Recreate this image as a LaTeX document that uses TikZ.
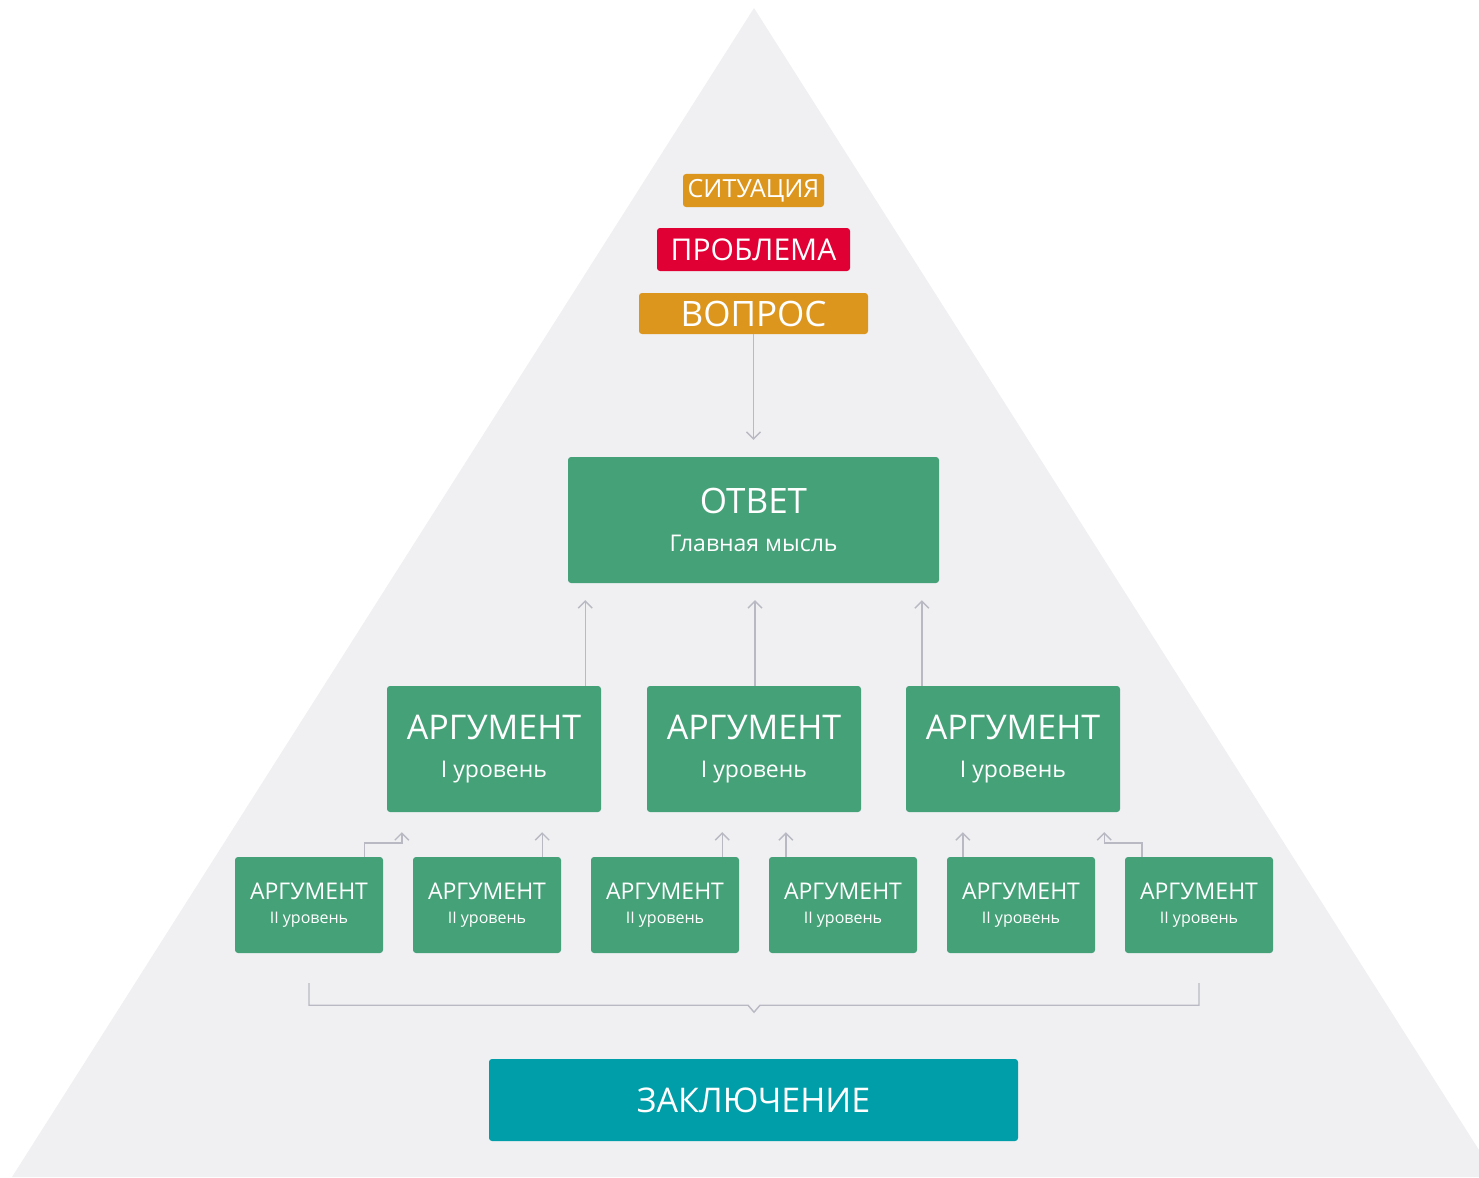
\documentclass[tikz,border=0pt]{standalone}
\usepackage{fontspec}
\setmainfont{Open Sans}
\usetikzlibrary{calc, arrows.meta, positioning}
\definecolor{trigray}{HTML}{F0F0F3}
\definecolor{argreen}{HTML}{45A178}
\definecolor{qorange}{HTML}{DC961E}
\definecolor{pred}{HTML}{E00034}
\definecolor{cteal}{HTML}{009EA8}
\definecolor{linegray}{HTML}{B9B9C3}
\newcommand{\fsz}[1]{\fontsize{#1pt}{#1pt}\selectfont}
\tikzset{
    box/.style={rounded corners=3pt, inner sep=0pt, text=white, align=center},
    argone/.style={box, fill=argreen, minimum width=214pt, minimum height=126pt},
    argtwo/.style={box, fill=argreen, minimum width=148pt, minimum height=96pt},
    arr/.style={draw=linegray, line width=1.4pt, -{Straight Barb[length=7pt,width=14pt]}},
    bline/.style={draw=linegray, line width=1.4pt}
}
\begin{document}
\begin{tikzpicture}[x=1pt, y=-1pt]
    \useasboundingbox (0,0) rectangle (1479,1177);
    % background triangle
    \fill[trigray] (754,8) -- (12,1177) -- (1479,1177) -- (1479,1150) -- cycle;

    % question block
    \node[box, fill=qorange, minimum width=141pt, minimum height=33pt] (sit) at (753.5,190.5) {\fsz{25}СИТУАЦИЯ};
    \node[box, fill=pred, minimum width=193pt, minimum height=43pt] (prob) at (753.5,249.5) {\fsz{30}ПРОБЛЕМА};
    \node[box, fill=qorange, minimum width=229pt, minimum height=41pt] (vopr) at (753.5,313.5) {\fsz{35}ВОПРОС};

    % answer
    \node[box, fill=argreen, minimum width=371pt, minimum height=126pt] (otvet) at (753.5,520)
        {\fsz{35}ОТВЕТ\\[20pt]\fsz{23}Главная мысль};

    % first level
    \foreach \n/\x in {1/494, 2/754, 3/1013}
        \node[argone] (a\n) at (\x,749) {\fsz{34}АРГУМЕНТ\\[21pt]\fsz{23}I уровень};

    % second level
    \foreach \n/\x in {1/309, 2/487, 3/665, 4/843, 5/1021, 6/1199}
        \node[argtwo] (b\n) at (\x,905) {\fsz{23}АРГУМЕНТ\\[12pt]\fsz{16}II уровень};

    % conclusion
    \node[box, fill=cteal, minimum width=529pt, minimum height=82pt] (zakl) at (753.5,1100) {\fsz{34}ЗАКЛЮЧЕНИЕ};

    % arrows
    \draw[arr, shorten >=17pt] (vopr) -- (otvet);
    \coordinate (s1) at ([xshift=-16pt]a1.north east);
    \coordinate (s2) at ([xshift=1pt]a2.north);
    \coordinate (s3) at ([xshift=16pt]a3.north west);
    \foreach \s in {s1, s2, s3}
        \draw[arr, shorten >=17pt] (\s) -- (\s |- otvet.south);

    \draw[arr, shorten >=20pt] ([xshift=-19pt]b1.north east) -- ++(0,-14) -| ([xshift=15pt]a1.south west);
    \draw[arr, shorten >=20pt] ([xshift=17pt]b6.north west) -- ++(0,-14) -| ([xshift=-16pt]a3.south east);
    \coordinate (t2) at ([xshift=-19pt]b2.north east);
    \coordinate (t3) at ([xshift=-17pt]b3.north east);
    \coordinate (t4) at ([xshift=17pt]b4.north west);
    \coordinate (t5) at ([xshift=16pt]b5.north west);
    \draw[arr, shorten >=20pt] (t2) -- (t2 |- a1.south);
    \draw[arr, shorten >=20pt] (t3) -- (t3 |- a2.south);
    \draw[arr, shorten >=20pt] (t4) -- (t4 |- a2.south);
    \draw[arr, shorten >=20pt] (t5) -- (t5 |- a3.south);

    % bracket
    \coordinate (brl) at ([yshift=-30pt]b1.south);
    \coordinate (brr) at ([yshift=-30pt]b6.south);
    \path (brl) ++(0,22) coordinate (bl);
    \path (brr) ++(0,22) coordinate (br);
    \coordinate (bm) at ($(bl)!0.5!(br)$);
    \draw[bline, line join=miter] (brl) -- (bl) -- ([xshift=-6pt]bm) -- ([yshift=-7pt]bm) -- ([xshift=6pt]bm) -- (br) -- (brr);
\end{tikzpicture}
\end{document}
